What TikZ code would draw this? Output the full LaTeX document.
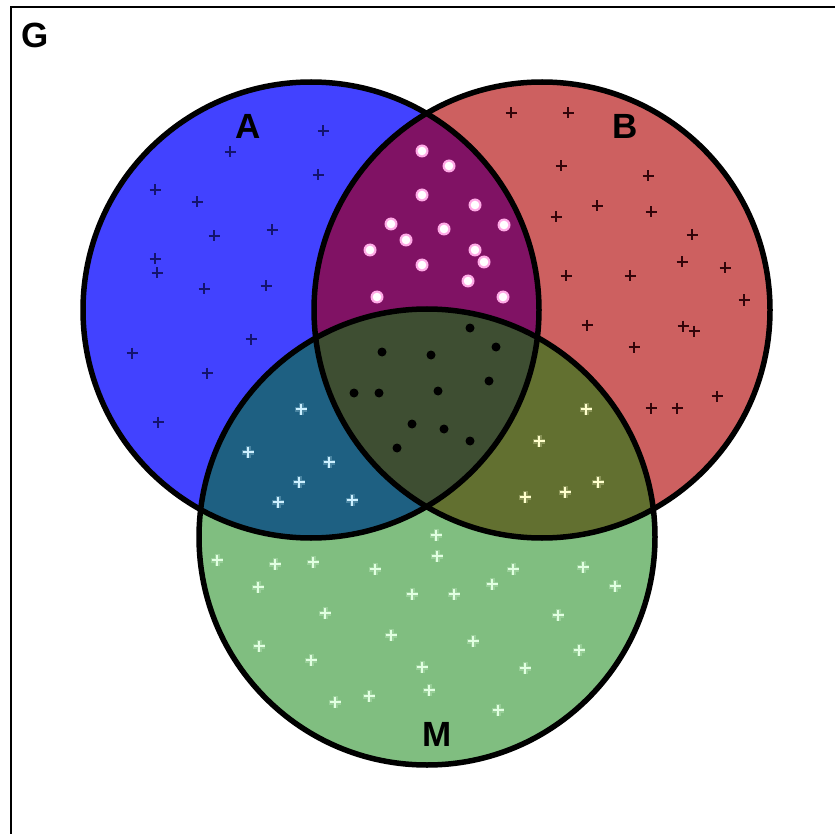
\documentclass[tikz,border=0pt]{standalone}
\usepackage{fontspec}
\setmainfont{Liberation Sans}
\begin{document}
\begin{tikzpicture}[x=1pt,y=-1pt,
  setlabel/.style={inner sep=0pt,font=\fontsize{35}{42}\selectfont\bfseries},
  outline/.style={line width=5.5pt,draw=black},
  plusmk/.pic={\draw[line width=2.4pt] (-5.5,0) -- (5.5,0) (0,-5.5) -- (0,5.5);},
  glowmk/.pic={\draw[line width=5pt,opacity=0.25] (-6,0) -- (6,0) (0,-6) -- (0,6);
               \draw[line width=2.4pt] (-5.5,0) -- (5.5,0) (0,-5.5) -- (0,5.5);}
]
\definecolor{Afill}{RGB}{66,66,255}
\definecolor{Bfill}{RGB}{205,96,96}
\definecolor{Mfill}{RGB}{128,190,128}
\definecolor{ABfill}{RGB}{128,18,100}
\definecolor{AMfill}{RGB}{30,96,130}
\definecolor{BMfill}{RGB}{98,112,48}
\definecolor{ABMfill}{RGB}{62,78,50}
\definecolor{Amark}{RGB}{20,20,110}
\definecolor{Bmark}{RGB}{50,5,10}
\definecolor{ABhalo}{RGB}{255,170,230}
\definecolor{AMmark}{RGB}{205,240,255}
\definecolor{BMmark}{RGB}{255,255,205}
\definecolor{Mmark}{RGB}{225,255,225}

\useasboundingbox (0,0) rectangle (835,834);
\fill[white] (0,0) rectangle (835,834);

% universe frame (open to the right and bottom)
\draw[line width=2.2pt] (11,840) -- (11,7) -- (840,7);
\node[setlabel] (G) at (35,35) {G};

% the three sets
\coordinate (cA) at (311,310);
\coordinate (cB) at (542,310);
\coordinate (cM) at (427,537);
\def\rad{228}

\fill[Afill] (cA) circle[radius=\rad];
\fill[Bfill] (cB) circle[radius=\rad];
\fill[Mfill] (cM) circle[radius=\rad];
\begin{scope}
  \clip (cA) circle[radius=\rad];
  \fill[ABfill] (cB) circle[radius=\rad];
  \fill[AMfill] (cM) circle[radius=\rad];
  \clip (cB) circle[radius=\rad];
  \fill[ABMfill] (cM) circle[radius=\rad];
\end{scope}
\begin{scope}
  \clip (cB) circle[radius=\rad];
  \clip (cM) circle[radius=\rad];
  \fill[BMfill] (cM) circle[radius=\rad];
  \clip (cA) circle[radius=\rad];
  \fill[ABMfill] (cM) circle[radius=\rad];
\end{scope}

\draw[outline] (cA) circle[radius=\rad];
\draw[outline] (cB) circle[radius=\rad];
\draw[outline] (cM) circle[radius=\rad];

% elements of A only
\foreach \x/\y in {323/131,230/152,318/175,155/190,197/202,272/230,214/236,
  155/259,157/273,204/289,266/286,251/339,132/353,207/373,158/422}
  \pic[color=Amark] at (\x,\y) {plusmk};

% elements of B only
\foreach \x/\y in {511/113,568/113,561/166,648/176,597/206,651/212,556/217,
  692/235,682/262,725/268,566/276,630/276,744/300,587/325,683/326,694/331,
  634/347,717/396,651/408,677/408}
  \pic[color=Bmark] at (\x,\y) {plusmk};

% elements of A and B, not M
\foreach \x/\y in {422/151,449/166,422/195,475/205,391/224,444/229,504/225,
  406/240,370/250,475/250,484/262,422/265,468/281,377/297,503/297}
  {\fill[ABhalo] (\x,\y) circle[radius=6.5];
   \fill[white] (\x,\y) circle[radius=4.3];}

% elements of all three sets
\foreach \x/\y in {470/328,496/347,382/352,431/355,489/381,354/393,379/393,
  438/391,412/424,444/429,470/441,397/448}
  \fill[black] (\x,\y) circle[radius=4.5];

% elements of A and M, not B
\foreach \x/\y in {301/409,248/452,329/462,299/482,278/502,352/500}
  \pic[color=AMmark] at (\x,\y) {glowmk};

% elements of B and M, not A
\foreach \x/\y in {586/409,539/441,598/482,565/492,525/497}
  \pic[color=BMmark] at (\x,\y) {glowmk};

% elements of M only
\foreach \x/\y in {436/535,437/556,217/560,275/564,313/562,375/569,513/569,
  583/567,258/587,492/584,412/594,454/594,615/586,325/613,558/615,391/635,
  473/641,259/646,311/660,579/650,422/667,525/668,429/690,335/702,369/696,
  498/710}
  \pic[color=Mmark] at (\x,\y) {glowmk};

% set names
\node[setlabel] (labA) at (248,126) {A};
\node[setlabel] (labB) at (625,126) {B};
\node[setlabel] (labM) at (437,734) {M};
\end{tikzpicture}
\end{document}
